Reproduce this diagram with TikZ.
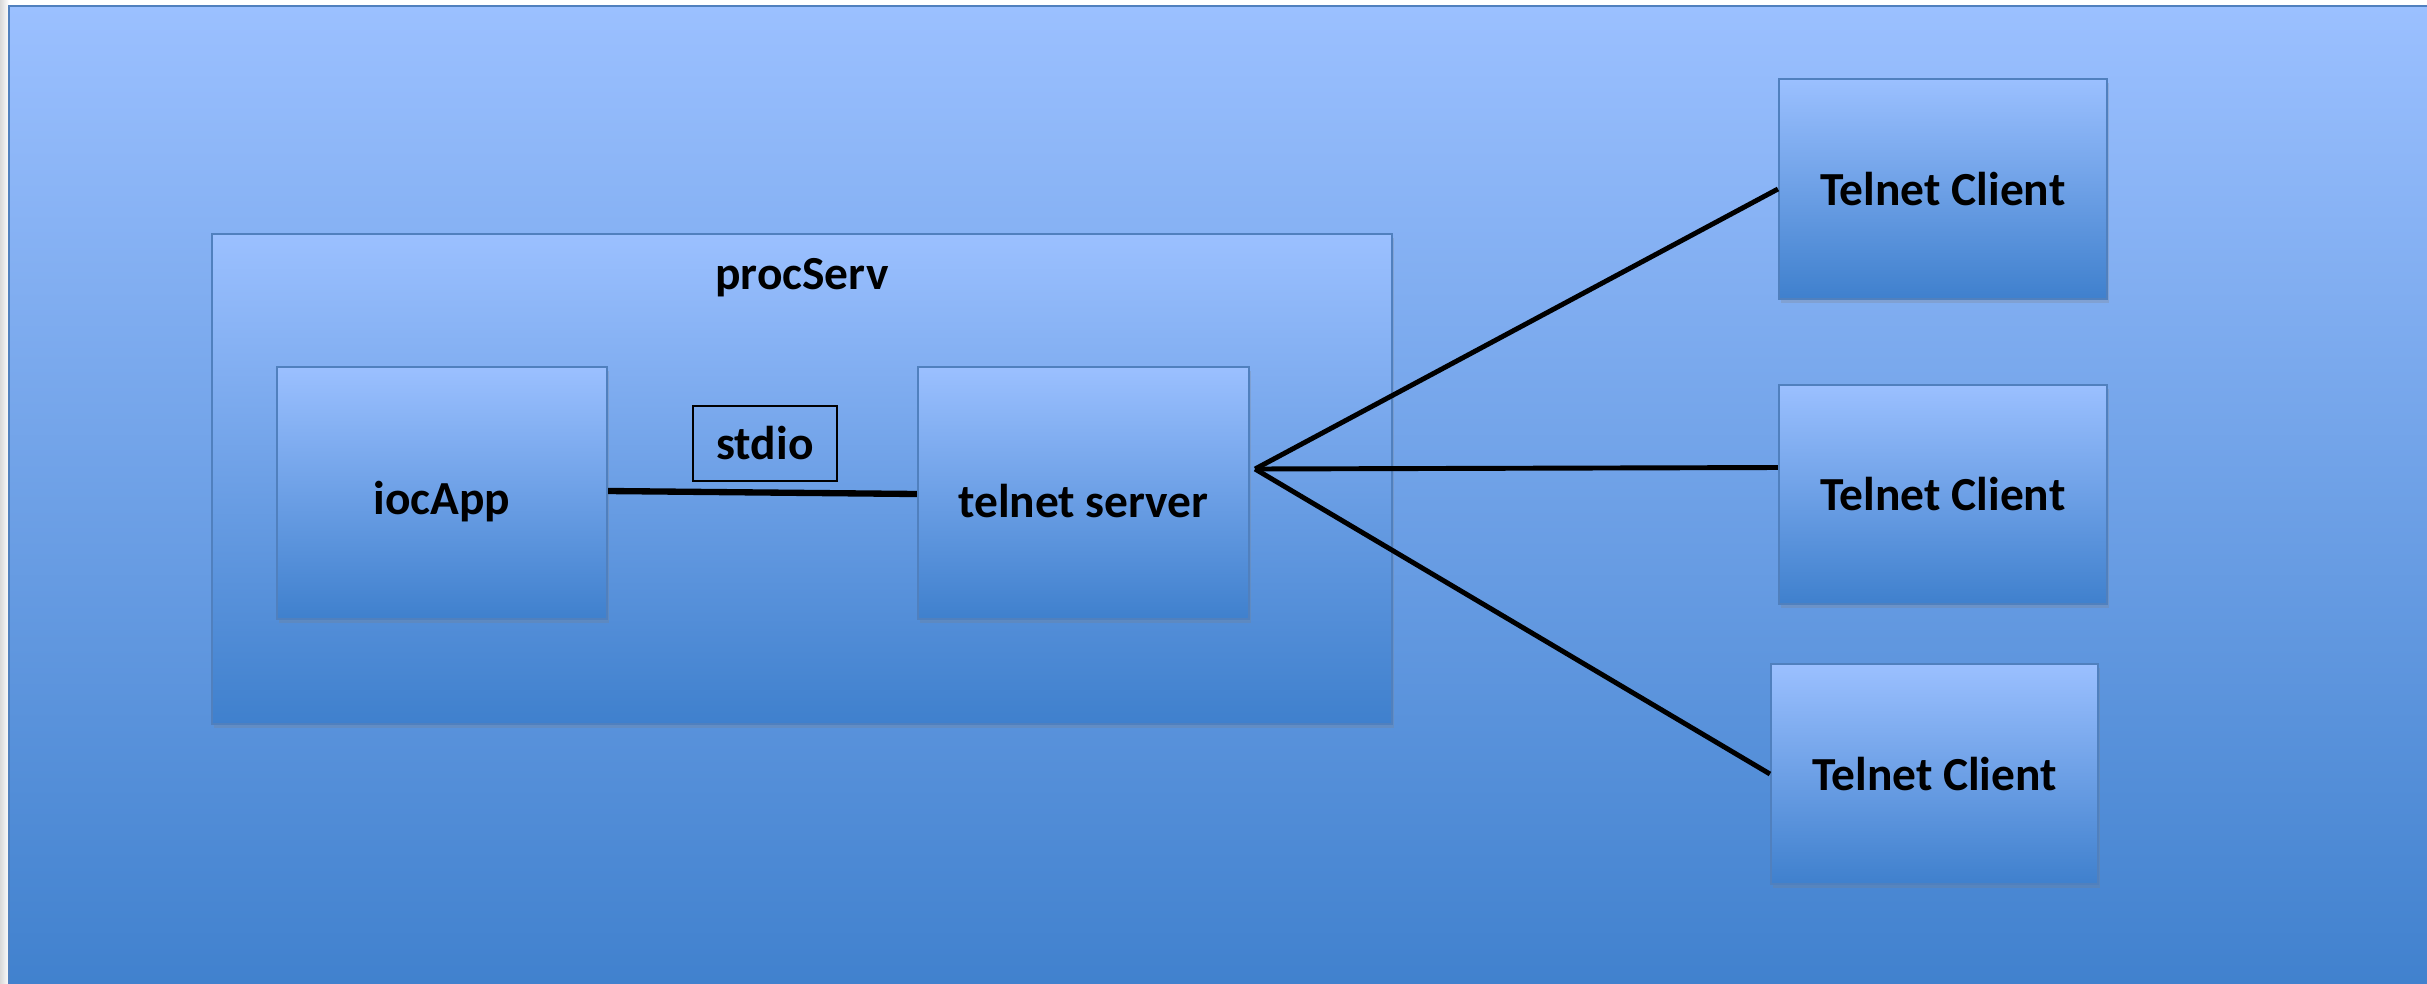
\documentclass[tikz,border=0pt]{standalone}
\usepackage{fontspec}
\setmainfont{Carlito}
\usepackage{tikz}
\usetikzlibrary{positioning, shadows}
\definecolor{sky}{RGB}{155,192,255}
\definecolor{deep}{RGB}{63,128,205}
\definecolor{rim}{RGB}{80,128,190}
\begin{document}
\begin{tikzpicture}[>=stealth,
  blob/.style={draw=rim, line width=0.6pt, top color=sky, bottom color=deep,
    drop shadow={opacity=0.25, shadow xshift=0.02cm, shadow yshift=-0.04cm}},
  txt/.style={font=\fontsize{13.5}{16}\selectfont\bfseries},
  wire/.style={line width=1.4pt}]
\useasboundingbox (0,0) rectangle (24.27,9.83);
\clip (0,0) rectangle (24.27,9.83);
% backdrop
\fill[left color=black!15, right color=white] (0,0) rectangle (0.09,9.83);
\draw[rim, line width=0.8pt, top color=sky, bottom color=deep] (0.09,-0.2) rectangle (24.5,9.77);
% procServ
\node[blob, minimum width=11.8cm, minimum height=4.9cm] (ps) at (8.02,5.04) {};
\node[txt] (pslabel) at ([yshift=-0.45cm]ps.north) {procServ};
\node[blob, txt, minimum width=3.3cm, minimum height=2.52cm, text height=0.5cm] (ioc) at (4.42,4.9) {iocApp};
\node[blob, txt, minimum width=3.31cm, minimum height=2.52cm, text height=0.5cm] (tel) at (10.835,4.9) {telnet server};
\node[draw, line width=0.5pt, txt, minimum width=1.44cm, minimum height=0.75cm] (io) at (7.65,5.395) {stdio};
\draw[wire, line width=1.8pt] ([yshift=0.02cm]ioc.east) -- ([yshift=-0.01cm]tel.west);
% clients
\node[blob, txt, minimum width=3.28cm, minimum height=2.2cm] (c1) at (19.43,7.94) {Telnet Client};
\node[blob, txt, minimum width=3.28cm, minimum height=2.19cm] (c2) at (19.43,4.885) {Telnet Client};
\node[blob, txt, minimum width=3.27cm, minimum height=2.2cm] (c3) at (19.345,2.09) {Telnet Client};
\coordinate (hub) at ([xshift=0.05cm, yshift=0.24cm]tel.east);
\draw[wire] (hub) -- (c1.west);
\draw[wire] (hub) -- ([yshift=0.27cm]c2.west);
\draw[wire] (hub) -- (c3.west);
\end{tikzpicture}
\end{document}
